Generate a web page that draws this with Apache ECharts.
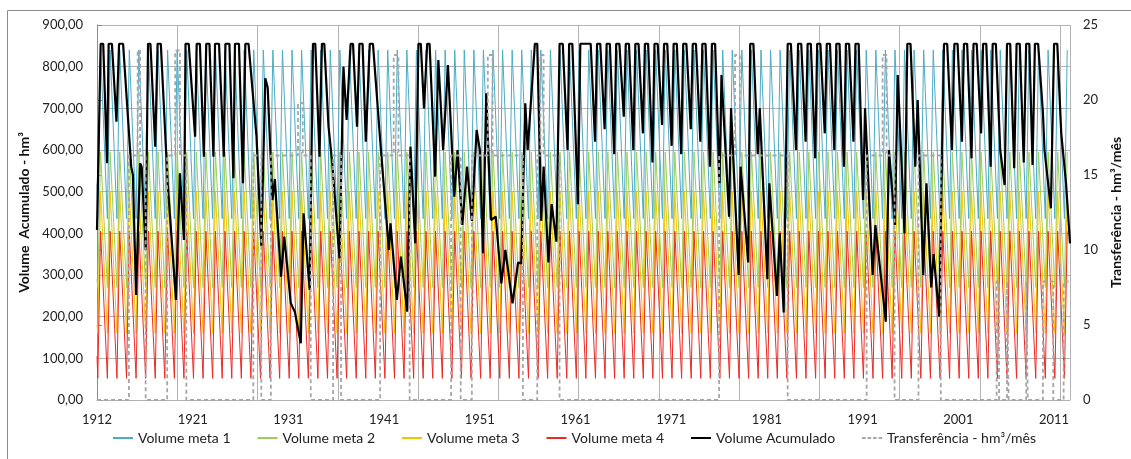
<!DOCTYPE html>
<html>
<head>
<meta charset="utf-8">
<title>Volume acumulado e transferência</title>
<script src="https://cdn.jsdelivr.net/npm/echarts@6/dist/echarts.min.js"></script>
<style>
  html, body { margin: 0; padding: 0; background: #fff; }
  #chart { width: 1131px; height: 459px; }
</style>
</head>
<body>
<div id="chart"></div>
<script>
// eixo x: meses contados desde o inicio da serie (1220 meses)
var totalMonths = 1220;
var xTickLabels = ['1912', '1921', '1931', '1941', '1951', '1961', '1971', '1981', '1991', '2001', '2011'];

// curvas meta: valor no inicio e o ciclo anual (minimo no mes 1, maximo no mes 4.5)
var metaNames  = ['Volume meta 1', 'Volume meta 2', 'Volume meta 3', 'Volume meta 4'];
var metaStart  = [520, 290, 180, 105];
var metaTrough = [435, 270, 160, 52];
var metaPeak   = [840, 595, 500, 405];
var metaTroughMonth = 1;
var metaPeakMonth = 4.5;

// volume acumulado (hm3): vertices [mes, volume]
var volumeAcumulado = [
  [0,408],[4.6,855],[7.8,855],[12.6,568],[14.6,855],[18.7,855],[24.4,668],[27.7,855],[32.7,855],
  [42.9,560],[45,540],[49,252],[54,568],[56,560],[61,360],[64,855],[67,855],[73,608],[76,855],[80,855],
  [88.6,520],[99,240],[104,544],[109,384],[111,855],[115,855],[123,632],[125,855],[129,855],[134,584],
  [137,855],[141,855],[146,584],[148,855],[153,855],[159,584],[161,855],[166,855],[171,532],[173,855],
  [178,855],[183,520],[186,855],[190,855],[200,632],[206,370],[211,772],[214,750],[220,480],[223,530],
  [230.7,296],[234.8,392],[243,232],[248,212],[255.5,136],[259,448],[266.7,264],[270.8,855],[273.7,855],
  [279,584],[282,855],[285,855],[290.3,656],[295,568],[304,340],[309,800],[313,672],[318,855],[321,855],
  [326,656],[329,855],[333,855],[337,620],[342,855],[346,855],[356,600],[366,360],[368,424],[376,240],
  [381,344],[389,212],[393,608],[399,376],[403,855],[406,855],[410,700],[414,855],[417,855],[424,536],
  [428,816],[434,600],[440,804],[448,488],[452,600],[458,420],[464,560],[470,430],[476,648],[480,600],
  [484,352],[488,736],[494,432],[500,440],[507,280],[512,360],[521,232],[528,330],[532,328],[537,712],
  [540,600],[549,855],[552,855],[557,430],[560,560],[566,330],[570,470],[576,380],[580,855],[584,855],
  [590,600],[592,855],[596,855],[603,470],[606,855],[610,855],
  [615,855],[619,855],[624.5,620],[627,855],[631,855],[636.5,650],[639,855],[643,855],[648.5,590],
  [651,855],[655,855],[660.5,680],[663,855],[667,855],[672.5,600],[675,855],[679,855],[684.5,640],
  [687,855],[691,855],[696.5,570],[699,855],[703,855],[708.5,660],[711,855],[715,855],[720.5,610],
  [723,855],[727,855],[732.5,590],[735,855],[739,855],[744.5,650],[747,855],[751,855],[756.5,620],
  [759,855],[763,855],[768.5,560],[771,855],[775,855],[780.5,520],[783,780],[792.5,440],[795,700],
  [804.5,300],[807,560],[816.5,330],[819,855],[823,855],[828.5,590],[831,700],[840.5,290],[843,520],
  [852.5,250],[856,400],[861,210],[866,855],[870,855],[876.5,600],[879,855],[883,855],[888.5,620],
  [891,855],[895,855],[900.5,580],[903,855],[907,855],[912.5,640],[915,855],[919,855],[924.5,600],
  [927,855],[931,855],[936.5,560],[939,855],[943,855],[948.5,620],[951,855],[955,855],[960.5,480],
  [963,700],[972.5,300],[976,420],[989,188],[993,600],[1000.5,420],[1004,780],[1012.5,400],[1016,855],
  [1020,855],[1026,560],[1029,720],[1036,300],[1040,520],[1046,270],[1049,350],[1056,200],[1062,855],
  [1066,855],[1072,600],[1075,855],[1079,855],[1084.5,620],[1087,855],[1091,855],[1096.5,580],[1099,855],
  [1103,855],[1108.5,640],[1111,855],[1115,855],[1120.5,560],[1123,855],[1127,855],[1132.5,600],
  [1138,516],[1141,855],[1145,855],[1150,556],[1153,855],[1157,855],[1162,570],[1165,855],[1169,855],
  [1173,564],[1176,855],[1180,855],[1186,690],[1188,600],[1196,460],[1200,855],[1204,855],[1209,640],
  [1211,600],[1215,520],[1220,376]
];

// transferencia (hm3/mes): degraus [mes de inicio, valor]
var transferencia = [
  [0,0],[40,16.3],[51,23.3],[54,16.3],[61,0],[88,16.3],[98,23.3],[104,16.3],[112,0],
  [196,16.3],[206,0],[218,16.3],[252,19.8],[258,16.3],[268,0],[296,16.3],[306,0],
  [355,16.3],[372,23],[378,16.3],[392,0],[444,16.3],[456,0],[470,16.3],[490,23],[496,16.3],[534,0],
  [552,16.3],[556,23],[560,16.3],[580,0],[780,16.3],[800,23],[806,16.3],[866,0],
  [965,16.3],[985,23],[990,16.3],[1000,0],[1030,16.3],[1058,0],
  [1128,7.9],[1131,0],[1141,7.9],[1143,0],[1165,7.9],[1167,0],[1186,7.9],[1199,0],[1212,7.9],[1220,7.9]
];

var metaColors = ['#4bacc6', '#9bcf5a', '#f5c400', '#ee2a24'];

function metaSeriesData(i) {
  var pts = [[0, metaStart[i]]];
  for (var m = 0; m < totalMonths; m += 12) {
    if (m + metaTroughMonth <= totalMonths) pts.push([m + metaTroughMonth, metaTrough[i]]);
    if (m + metaPeakMonth <= totalMonths) pts.push([m + metaPeakMonth, metaPeak[i]]);
  }
  return pts;
}

var font = 'Lato, "Open Sans", sans-serif';
var gridColor = '#b3b3b3';
var lineIcon = 'path://M0,0H20V2H0Z';
var dashIcon = 'path://M0,0H3.5V2H0Z M5.5,0H9V2H5.5Z M11,0H14.5V2H11Z M16.5,0H20V2H16.5Z';

var series = [];
var legendData = [];
for (var i = 0; i < metaNames.length; i++) {
  series.push({
    name: metaNames[i], type: 'line', xAxisIndex: 0, yAxisIndex: 0,
    data: metaSeriesData(i), showSymbol: false, symbol: 'none',
    lineStyle: { color: metaColors[i], width: 1 }, itemStyle: { color: metaColors[i] },
    silent: true, z: 2
  });
  legendData.push({ name: metaNames[i], icon: lineIcon });
}
series.push({
  name: 'Volume Acumulado', type: 'line', xAxisIndex: 0, yAxisIndex: 0,
  data: volumeAcumulado, showSymbol: false, symbol: 'none',
  lineStyle: { color: '#000', width: 2.2 }, itemStyle: { color: '#000' }, z: 3
});
legendData.push({ name: 'Volume Acumulado', icon: lineIcon });
series.push({
  name: 'Transferência - hm³/mês', type: 'line', xAxisIndex: 0, yAxisIndex: 1,
  data: transferencia, step: 'end', showSymbol: false, symbol: 'none',
  lineStyle: { color: '#a6a6a6', width: 1.8, type: [4, 3] }, itemStyle: { color: '#a6a6a6' }, z: 4
});
legendData.push({ name: 'Transferência - hm³/mês', icon: dashIcon });

var chart = echarts.init(document.getElementById('chart'));
chart.setOption({
  animation: false,
  backgroundColor: '#fff',
  textStyle: { fontFamily: font },
  graphic: [{
    type: 'rect', shape: { x: 7.5, y: 10.5, width: 1140, height: 470 },
    style: { fill: 'none', stroke: '#8c8c8c', lineWidth: 1 }, silent: true, z: -10
  }],
  grid: { left: 97, right: 52, top: 25, bottom: 59 },
  legend: {
    bottom: 9, left: 108, itemGap: 27, itemWidth: 20, itemHeight: 2,
    textStyle: { fontFamily: font, fontSize: 14, color: '#222' },
    data: legendData
  },
  xAxis: [{
    type: 'value', min: 0, max: totalMonths, interval: 120,
    axisLine: { show: true, lineStyle: { color: gridColor } },
    axisTick: { show: false }, splitLine: { show: false },
    axisLabel: {
      fontSize: 13, color: '#222', margin: 13,
      formatter: function (v) { return v % 120 === 0 ? (xTickLabels[v / 120] || '') : ''; }
    }
  }, {
    // linhas verticais da grade (12 divisoes)
    type: 'value', position: 'bottom', min: 0, max: 982 / 81, interval: 1,
    axisLine: { show: false }, axisTick: { show: false }, axisLabel: { show: false },
    splitLine: { show: true, lineStyle: { color: gridColor, width: 1 } }
  }],
  yAxis: [{
    type: 'value', min: 0, max: 900, interval: 100,
    name: 'Volume  Acumulado - hm³', nameLocation: 'middle', nameGap: 65,
    nameTextStyle: { fontFamily: font, fontSize: 14, fontWeight: 'bold', color: '#111' },
    axisLine: { show: true, lineStyle: { color: gridColor } }, axisTick: { show: false },
    splitLine: { show: true, lineStyle: { color: gridColor, width: 1 } },
    axisLabel: {
      fontSize: 13, color: '#222', margin: 14,
      formatter: function (v) { return v.toFixed(2).replace('.', ','); }
    }
  }, {
    type: 'value', min: 0, max: 25, interval: 5, position: 'right',
    name: 'Transferência - hm³/mês', nameLocation: 'middle', nameGap: 33, nameRotate: 90,
    nameTextStyle: { fontFamily: font, fontSize: 14, fontWeight: 'bold', color: '#111' },
    axisLine: { show: true, lineStyle: { color: '#8c8c8c' } },
    axisTick: { show: true, length: 5, lineStyle: { color: '#8c8c8c' } },
    splitLine: { show: false },
    axisLabel: { fontSize: 13, color: '#222', margin: 13 }
  }],
  series: series
});
</script>
</body>
</html>
